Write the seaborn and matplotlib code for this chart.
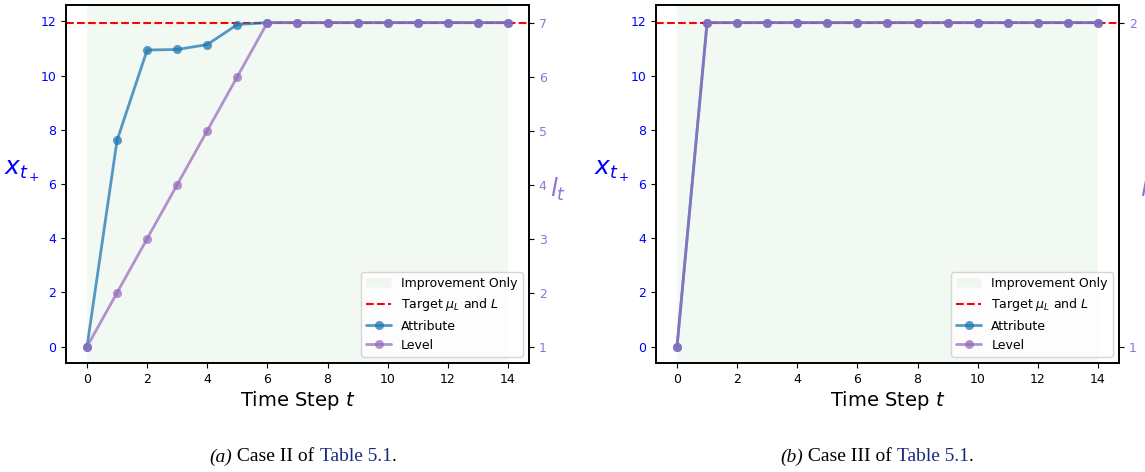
import matplotlib
matplotlib.use("Agg")
import matplotlib.pyplot as plt
import seaborn as sns
import pandas as pd
from matplotlib.patches import Patch
from matplotlib.lines import Line2D

sns.set_style("ticks", {'text.color': 'black', 'axes.labelcolor': 'black',
                        'xtick.color': 'black', 'ytick.color': 'black'})
plt.rcParams['font.family'] = ['DejaVu Sans']

steps = list(range(15))
target = 11.95

attr_a = [0, 7.61, 10.94, 10.96, 11.14, 11.88, 11.95, 11.95, 11.95, 11.95, 11.95, 11.95, 11.95, 11.95, 11.95]
level_a = [1, 2, 3, 4, 5, 6, 7, 7, 7, 7, 7, 7, 7, 7, 7]

attr_b = [0, 11.95, 11.95, 11.95, 11.95, 11.95, 11.95, 11.95, 11.95, 11.95, 11.95, 11.95, 11.95, 11.95, 11.95]
level_b = [1, 2, 2, 2, 2, 2, 2, 2, 2, 2, 2, 2, 2, 2, 2]

captions = [("(a)", "Case II of "), ("(b)", "Case III of ")]

ATTR_C = '#1f77b4'
LEVEL_C = '#9467bd'
YLO, YHI = -0.6, 12.6


def panel(ax, attr, level):
    df = pd.DataFrame({'t': steps, 'attr': attr, 'level': level})
    ax.axvspan(0, 14, color='green', alpha=0.05, lw=0)
    ax.axhline(target, color='red', ls='--', lw=1.5)
    sns.lineplot(data=df, x='t', y='attr', ax=ax, marker='o', markersize=6.5,
                 color=ATTR_C, alpha=0.75, lw=2, markeredgewidth=0)
    ax.set_ylim(YLO, YHI)
    ax.set_xlim(-0.7, 14.7)
    ax.set_xticks(range(0, 15, 2))
    ax.set_yticks(range(0, 13, 2))
    ax.tick_params(axis='y', labelcolor='blue', labelsize=9)
    ax.tick_params(axis='x', labelsize=9)
    ax.set_xlabel("Time Step $t$", fontsize=14, labelpad=2)
    ax.set_ylabel("$x_{t_+}$", fontsize=18, color='blue', rotation=0, va='center')
    ax.yaxis.set_label_coords(-0.095, 0.534)

    ax2 = ax.twinx()
    top = max(level)
    scale = (top - 1) / target
    sns.lineplot(data=df, x='t', y='level', ax=ax2, marker='o', markersize=6.5,
                 color=LEVEL_C, alpha=0.7, lw=2, markeredgewidth=0)
    ax2.set_ylim(1 + YLO * scale, 1 + YHI * scale)
    ax2.set_yticks(range(1, top + 1))
    ax2.tick_params(axis='y', labelcolor='#9370DB', labelsize=9)
    ax2.set_ylabel("$l_t$", fontsize=18, color='#9370DB', rotation=0, va='center')
    ax2.yaxis.set_label_coords(1.062, 0.484)

    for a in (ax, ax2):
        for s in a.spines.values():
            s.set_color('black')
            s.set_linewidth(1.2)

    handles = [
        Patch(facecolor='green', alpha=0.05, label='Improvement Only'),
        Line2D([], [], color='red', ls='--', lw=1.5, label=r'Target $\mu_L$ and $L$'),
        Line2D([], [], color=ATTR_C, alpha=0.75, lw=2, marker='o', markersize=6.5,
               markeredgewidth=0, label='Attribute'),
        Line2D([], [], color=LEVEL_C, alpha=0.7, lw=2, marker='o', markersize=6.5,
               markeredgewidth=0, label='Level'),
    ]
    ax2.legend(handles=handles, loc='lower right', fontsize=9, frameon=True,
               borderaxespad=0.5)


def caption(fig, xc, italic, rest):
    r = fig.canvas.get_renderer()
    parts = [(italic, 'italic', 'black'), (" " + rest, 'normal', 'black'),
             ("Table 5.1", 'normal', '#1a2a80'), (".", 'normal', 'black')]
    texts = []
    for s, st, c in parts:
        texts.append(fig.text(0, 0.032, s, fontsize=14, style=st, color=c,
                              family=['Liberation Serif'], va='center'))
    widths = [t.get_window_extent(r).width for t in texts]
    x = xc * fig.get_figwidth() * fig.dpi - sum(widths) / 2
    for t, w in zip(texts, widths):
        t.set_x(x / (fig.get_figwidth() * fig.dpi))
        x += w


fig = plt.figure(figsize=(11.45, 4.72), dpi=100)
ax_a = fig.add_axes([0.0576, 0.2309, 0.4044, 0.7585])
ax_b = fig.add_axes([0.5729, 0.2309, 0.4044, 0.7585])
panel(ax_a, attr_a, level_a)
panel(ax_b, attr_b, level_b)
caption(fig, 303 / 1145, *captions[0])
caption(fig, 877 / 1145, *captions[1])

fig.savefig("out.png", dpi=100)
